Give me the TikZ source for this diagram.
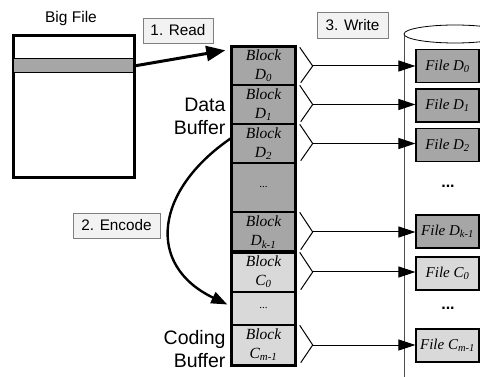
\documentclass[tikz,border=0pt]{standalone}
\usepackage{fontspec}
\setmainfont{Liberation Serif}
\newfontfamily\labelfont{Liberation Sans}
\usetikzlibrary{arrows.meta}
\definecolor{darkblk}{HTML}{A6A6A6}
\definecolor{lightblk}{HTML}{D9D9D9}
\definecolor{tagfill}{HTML}{F2F2F2}
\definecolor{tagline}{HTML}{7F7F7F}
\tikzset{
  blk/.style={draw, line width=1.4pt, minimum width=63pt, minimum height=#1,
    inner sep=0pt, align=center, font=\fontsize{15.5}{19}\selectfont\itshape},
  dblk/.style={blk=#1, fill=darkblk},
  cblk/.style={blk=#1, fill=lightblk},
  filebox/.style={draw, line width=1.2pt, minimum width=63pt, minimum height=33pt,
    inner sep=0pt, font=\fontsize{15}{16}\selectfont\itshape},
  tag/.style={draw=tagline, fill=tagfill, line width=0.6pt, inner sep=0pt,
    font=\labelfont\fontsize{15.3}{17}\selectfont},
  side/.style={align=right, anchor=east, font=\labelfont\fontsize{19.5}{23}\selectfont},
  fork/.style={line width=1pt},
  wr/.style={line width=1pt, -{Triangle[length=17pt,width=11pt]}},
  filedots/.style={font=\labelfont\bfseries\fontsize{16}{16}\selectfont}
}
\begin{document}
\begin{tikzpicture}[x=1pt,y=-1pt]
\useasboundingbox (0,0) rectangle (480,377);

% storage cylinder behind the output files
\begin{scope}
  \clip (0,0) rectangle (480,377);
  \draw[line width=0.8pt, draw=black!70] (404,377) -- (404,34);
  \draw[line width=0.8pt, fill=white] (455,34) ellipse [x radius=51, y radius=9];
\end{scope}

% source file with the chunk being read
\node[font=\labelfont\fontsize{15.5}{17}\selectfont] (bigtitle) at (71,18) {Big File};
\node[draw, line width=3pt, minimum width=121pt, minimum height=142pt, inner sep=0pt] (bigfile) at (73.5,107) {};
\node[draw, line width=1pt, fill=darkblk, minimum width=120pt, minimum height=14pt, inner sep=0pt] (chunk) at (73.5,66) {};

% buffer blocks
\node[dblk=38pt] (d0) at (263.5,66) {Block\\D\textsubscript{0}};
\node[dblk=39pt] (d1) at (263.5,104.5) {Block\\D\textsubscript{1}};
\node[dblk=39pt] (d2) at (263.5,143.5) {Block\\D\textsubscript{2}};
\node[dblk=49pt, font=\fontsize{11}{12}\selectfont] (ddots) at (263.5,187.5) {...};
\node[dblk=40pt] (dk) at (263.5,232) {Block\\D\textsubscript{k-1}};
\node[cblk=40pt] (c0) at (263.5,272) {Block\\C\textsubscript{0}};
\node[cblk=33pt, font=\fontsize{11}{12}\selectfont] (cdots) at (263.5,308.5) {...};
\node[cblk=40pt] (cm) at (263.5,345) {Block\\C\textsubscript{m-1}};
\draw[line width=3pt] (d0.north west) rectangle (dk.south east);
\draw[line width=3pt] (c0.north west) rectangle (cm.south east);

\node[side] (dbuf) at (229,116) {Data\\Buffer};
\node[side] (cbuf) at (229,349) {Coding\\Buffer};

% output files
\node[filebox, fill=darkblk] (f0) at (447.5,66) {File D\textsubscript{0}};
\node[filebox, fill=darkblk] (f1) at (447.5,105.5) {File D\textsubscript{1}};
\node[filebox, fill=darkblk] (f2) at (447.5,145) {File D\textsubscript{2}};
\node[filedots] (fdots1) at (448,186) {...};
\node[filebox, fill=darkblk] (fk) at (447.5,231.5) {File D\textsubscript{k-1}};
\node[filebox, fill=lightblk] (fc0) at (447.5,273.5) {File C\textsubscript{0}};
\node[filedots] (fdots2) at (448,308) {...};
\node[filebox, fill=lightblk] (fcm) at (447.5,345.5) {File C\textsubscript{m-1}};

% step labels
\node[tag, minimum width=70pt, minimum height=25pt] (readtag) at (178,30.5) {1. Read};
\node[tag, minimum width=71pt, minimum height=26pt] (writetag) at (352.5,25) {3. Write};
\node[tag, minimum width=87pt, minimum height=25pt] (enctag) at (116.5,225.5) {2. Encode};

% read: chunk into the data buffer
\draw[line width=3pt, -{Triangle[length=19pt,width=15pt]}]
  (chunk.east) -- ([xshift=-6pt,yshift=-4pt]d0.north west);

% encode: data buffer into the coding buffer
\draw[line width=2.4pt, -{Triangle[length=16pt,width=12pt]}]
  ([yshift=5.5pt]d2.west) .. controls (155,190) and (145,265) .. ([xshift=-4pt,yshift=4pt]cdots.west);

% write: each block out to its file
\foreach \b/\f in {d0/f0, d1/f1, d2/f2, dk/fk, c0/fc0, cm/fcm}{
  \coordinate (\b-tip) at ([xshift=17pt]\b.east);
  \draw[fork] ([xshift=4pt,yshift=-1pt]\b.north east) -- (\b-tip) -- ([xshift=5pt,yshift=3pt]\b.south east);
  \draw[wr] (\b-tip) -- (\b-tip -| \f.west);
}
\end{tikzpicture}
\end{document}
